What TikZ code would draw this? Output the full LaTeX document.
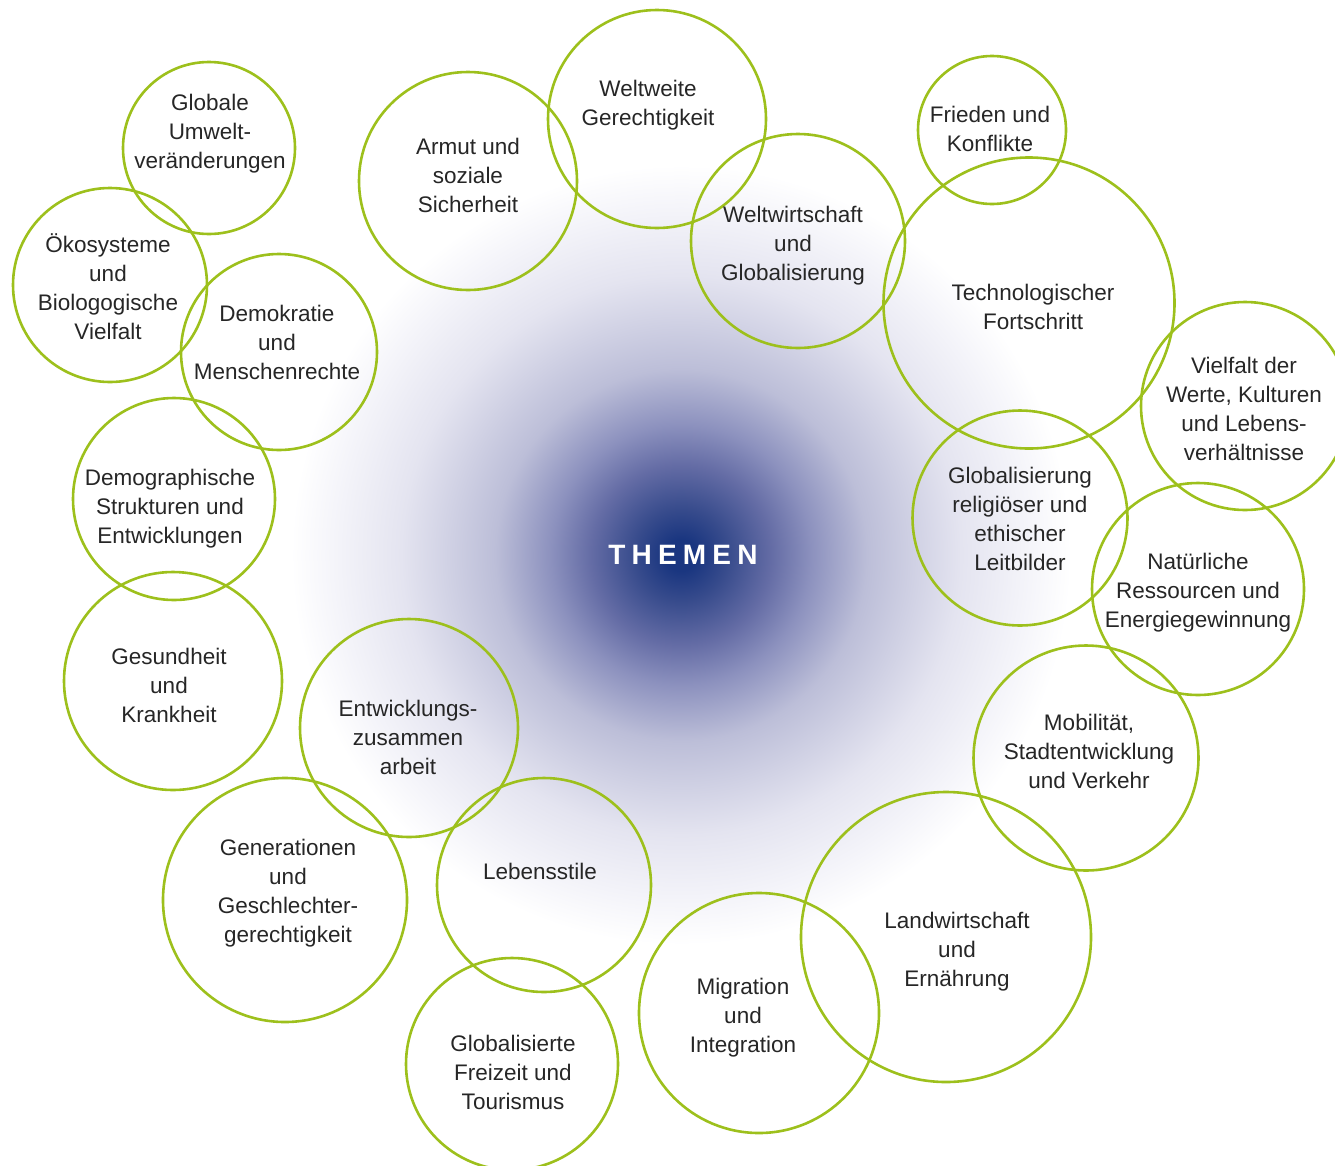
\documentclass[tikz,border=0pt]{standalone}
\usepackage{fontspec}
\setmainfont{Liberation Sans}
\newfontfamily\themenfont[LetterSpace=22]{Liberation Sans}
\definecolor{ringgreen}{RGB}{157,192,28}
\definecolor{txt}{RGB}{38,38,38}
\definecolor{g0}{RGB}{26,54,128}
\definecolor{g1}{RGB}{55,75,140}
\definecolor{g2}{RGB}{100,108,165}
\definecolor{g3}{RGB}{140,145,190}
\definecolor{g4}{RGB}{188,190,216}
\definecolor{g5}{RGB}{228,228,240}
\definecolor{g6}{RGB}{245,245,250}
\pgfdeclareradialshading{themenglow}{\pgfpoint{0bp}{0bp}}{%
  color(0bp)=(g0); color(0.8bp)=(g0); color(2.3bp)=(g1); color(4.5bp)=(g2); color(6.5bp)=(g3);
  color(9.3bp)=(g4); color(14bp)=(g5); color(17.5bp)=(g6); color(19.5bp)=(white); color(50bp)=(white)}
\tikzset{
  ring/.style={circle, draw=ringgreen, line width=2.6pt, inner sep=0pt, minimum size=#1},
  label/.style={align=center, text=txt, font=\fontsize{22.5}{29}\selectfont, inner sep=0pt},
}
\begin{document}
\begin{tikzpicture}[x=1pt,y=-1pt]
\useasboundingbox (0,0) rectangle (1335,1165);
\begin{scope}
\clip (0,0) rectangle (1335,1165);
\shade[shading=themenglow] (681,555) circle (500);
\end{scope}
% rings
\node[ring=172pt] (r1) at (209,148) {};
\node[ring=194pt] (r2) at (110,285) {};
\node[ring=196pt] (r3) at (279,352) {};
\node[ring=202pt] (r4) at (174,499) {};
\node[ring=218pt] (r5) at (173,681) {};
\node[ring=244pt] (r6) at (285,900) {};
\node[ring=218pt] (r7) at (409,728) {};
\node[ring=214pt] (r8) at (544,885) {};
\node[ring=212pt] (r9) at (512,1064) {};
\node[ring=240pt] (r10) at (759,1013) {};
\node[ring=290pt] (r11) at (946,937) {};
\node[ring=225pt] (r12) at (1086,758) {};
\node[ring=212pt] (r13) at (1198,589) {};
\node[ring=215pt] (r14) at (1020,518) {};
\node[ring=208pt] (r15) at (1245,406) {};
\node[ring=291pt] (r16) at (1029,303) {};
\node[ring=148pt] (r17) at (992,130) {};
\node[ring=214pt] (r18) at (798,241) {};
\node[ring=218pt] (r19) at (657,119) {};
\node[ring=218pt] (r20) at (468,181) {};
% labels
\node[label] (t1) at (210,134) {Globale\\Umwelt-\\veränderungen};
\node[label] (t2) at (108,287) {Ökosysteme\\und\\Biologogische\\Vielfalt};
\node[label] (t3) at (277,342) {Demokratie\\und\\Menschenrechte};
\node[label] (t4) at (170,509) {Demographische\\Strukturen und\\Entwicklungen};
\node[label] (t5) at (169,685) {Gesundheit\\und\\Krankheit};
\node[label] (t6) at (288,893) {Generationen\\und\\Geschlechter-\\gerechtigkeit};
\node[label] (t7) at (408,737) {Entwicklungs-\\zusammen\\arbeit};
\node[label] (t8) at (540,871) {Lebensstile};
\node[label] (t9) at (513,1072) {Globalisierte\\Freizeit und\\Tourismus};
\node[label] (t10) at (743,1018) {Migration\\und\\Integration};
\node[label] (t11) at (957,952) {Landwirtschaft\\und\\Ernährung};
\node[label] (t12) at (1089,751) {Mobilität,\\Stadtentwicklung\\und Verkehr};
\node[label] (t13) at (1198,593) {Natürliche\\Ressourcen und\\Energiegewinnung};
\node[label] (t14) at (1020,519) {Globalisierung\\religiöser und\\ethischer\\Leitbilder};
\node[label] (t15) at (1244,409) {Vielfalt der\\Werte, Kulturen\\und Lebens-\\verhältnisse};
\node[label] (t16) at (1033,307) {Technologischer\\Fortschritt};
\node[label] (t17) at (990,129) {Frieden und\\Konflikte};
\node[label] (t18) at (793,246) {Weltwirtschaft\\und\\Globalisierung};
\node[label] (t19) at (648,105) {Weltweite\\Gerechtigkeit};
\node[label] (t20) at (468,175) {Armut und\\soziale\\Sicherheit};
\node[text=white, inner sep=0pt, font=\themenfont\bfseries\fontsize{28}{30}\selectfont] (themen) at (683,555) {THEMEN};
\end{tikzpicture}
\end{document}
